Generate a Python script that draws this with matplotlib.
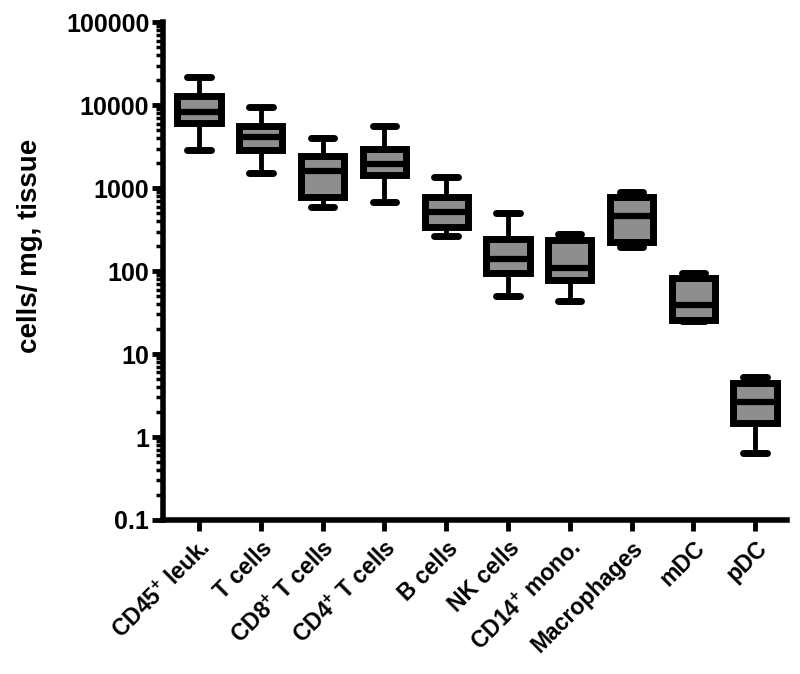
import matplotlib
matplotlib.use('Agg')
import matplotlib.pyplot as plt
from matplotlib.ticker import FixedLocator, LogLocator, NullFormatter

plt.rcParams['font.family'] = ['Liberation Sans', 'DejaVu Sans']
plt.rcParams['mathtext.fontset'] = 'custom'
plt.rcParams['mathtext.rm'] = 'Liberation Sans:bold'
plt.rcParams['mathtext.bf'] = 'Liberation Sans:bold'

# summary values (cells / mg tissue)
labels = [r'CD45$^{+}$ leuk.', 'T cells', r'CD8$^{+}$ T cells', r'CD4$^{+}$ T cells',
          'B cells', 'NK cells', r'CD14$^{+}$ mono.', 'Macrophages', 'mDC', 'pDC']
whislo = [2850, 1520, 595, 685, 265, 50, 44, 193, 25, 0.64]
q1 = [6100, 2900, 790, 1460, 342, 94, 78, 225, 26, 1.46]
med = [8300, 4150, 1620, 1950, 520, 140, 108, 460, 39, 2.66]
q3 = [12800, 5650, 2450, 2950, 790, 241, 236, 790, 82, 4.5]
whishi = [21700, 9400, 3980, 5600, 1380, 495, 282, 905, 94, 5.3]

yticks = [0.1, 1, 10, 100, 1000, 10000, 100000]
ytick_labels = ['0.1', '1', '10', '100', '1000', '10000', '100000']

stats = []
for i in range(len(labels)):
    stats.append({'whislo': whislo[i], 'q1': q1[i], 'med': med[i],
                  'q3': q3[i], 'whishi': whishi[i], 'fliers': []})

fig = plt.figure(figsize=(8, 6.74), dpi=100)
ax = fig.add_axes([0.204, 0.2285, 0.78, 0.7385])

ax.bxp(stats, positions=range(len(labels)), widths=0.7, patch_artist=True,
       showfliers=False,
       boxprops=dict(facecolor='#8e8e8e', edgecolor='black', linewidth=5),
       medianprops=dict(color='black', linewidth=4.5, solid_capstyle='butt'),
       whiskerprops=dict(color='black', linewidth=3.5),
       capprops=dict(color='black', linewidth=5, solid_capstyle='round'),
       capwidths=0.38)

ax.set_yscale('log')
ax.set_ylim(0.1, 100000)
ax.set_xlim(-0.58, 9.52)

ax.yaxis.set_major_locator(FixedLocator(yticks))
ax.set_yticklabels(ytick_labels)
ax.yaxis.set_minor_locator(LogLocator(base=10, subs=range(2, 10), numticks=20))
ax.yaxis.set_minor_formatter(NullFormatter())

ax.set_xticks(range(len(labels)))
ax.set_xticklabels(labels, rotation=45, ha='right', rotation_mode='anchor',
                   fontsize=16.5, fontweight='bold')

for s in ['top', 'right']:
    ax.spines[s].set_visible(False)
for s in ['left', 'bottom']:
    ax.spines[s].set_linewidth(4)

ax.tick_params(axis='y', which='major', length=8, width=3.5, labelsize=18, pad=2)
ax.tick_params(axis='y', which='minor', length=5, width=2.5)
ax.tick_params(axis='x', which='major', length=8, width=3.5, pad=4)
for t in ax.get_yticklabels():
    t.set_fontweight('bold')

ax.set_ylabel('cells/ mg, tissue', fontsize=20, fontweight='bold')
ax.yaxis.set_label_coords(-0.192, 0.55)

fig.savefig('out.png', dpi=100)
